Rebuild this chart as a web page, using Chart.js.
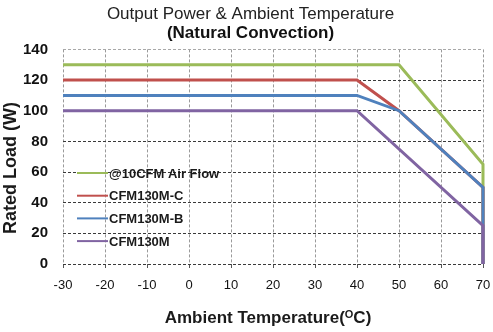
<!DOCTYPE html>
<html>
<head>
<meta charset="utf-8">
<script src="https://cdn.jsdelivr.net/npm/chart.js@4/dist/chart.umd.min.js"></script>
<style>
  body { margin: 0; background: #fff; }
  canvas { display: block; }
</style>
</head>
<body>
<canvas id="derating" width="493" height="332"></canvas>
<script>
// derating curves: ambient temperature (°C) vs rated load (W)
const seriesNames = ["@10CFM Air Flow", "CFM130M-C", "CFM130M-B", "CFM130M"];
const airFlowTemps = [-30, 50, 70, 70];
const airFlowLoads = [130, 130, 65, 0];
const cfmCTemps = [-30, 40, 50, 70, 70];
const cfmCLoads = [120, 120, 100, 50, 0];
const cfmBTemps = [-30, 40, 50, 70, 70];
const cfmBLoads = [110, 110, 100, 50, 0];
const cfmTemps = [-30, 40, 70, 70];
const cfmLoads = [100, 100, 25, 0];
const colors = ["#9bbb59", "#c0504d", "#4f81bd", "#8064a2"];

const FONT = "'Liberation Sans', Arial, sans-serif";

function toPoints(temps, loads) {
  return temps.map((t, i) => ({ x: t, y: loads[i] }));
}

const curves = [
  toPoints(airFlowTemps, airFlowLoads),
  toPoints(cfmCTemps, cfmCLoads),
  toPoints(cfmBTemps, cfmBLoads),
  toPoints(cfmTemps, cfmLoads)
];

// legend sits inside the plot, lower left, no box
const insideLegend = {
  id: "insideLegend",
  afterDraw(chart) {
    const ctx = chart.ctx;
    const area = chart.chartArea;
    ctx.save();
    ctx.font = "bold 13px " + FONT;
    ctx.textBaseline = "middle";
    ctx.fillStyle = "#1a1a1a";
    chart.data.datasets.forEach((ds, i) => {
      const y = 173 + i * 22.7;
      const x = area.left + 14;
      ctx.strokeStyle = ds.borderColor;
      ctx.lineWidth = 2;
      ctx.beginPath();
      ctx.moveTo(x, y);
      ctx.lineTo(x + 31, y);
      ctx.stroke();
      ctx.fillText(ds.label, x + 32, y + 1);
    });
    ctx.restore();
  }
};

// axis titles: rotated y title, x title with a raised "O"
const axisTitles = {
  id: "axisTitles",
  afterDraw(chart) {
    const ctx = chart.ctx;
    ctx.save();
    ctx.fillStyle = "#1a1a1a";

    ctx.save();
    ctx.translate(11, 168);
    ctx.rotate(-Math.PI / 2);
    ctx.font = "bold 18px " + FONT;
    ctx.textAlign = "center";
    ctx.textBaseline = "middle";
    ctx.fillText("Rated Load (W)", 0, 0);
    ctx.restore();

    const parts = [
      { text: "Ambient Temperature(", size: 17, dy: 0 },
      { text: "O", size: 11, dy: -5 },
      { text: "C)", size: 17, dy: 0 }
    ];
    ctx.textBaseline = "alphabetic";
    let total = 0;
    parts.forEach(p => {
      ctx.font = "bold " + p.size + "px " + FONT;
      p.w = ctx.measureText(p.text).width;
      total += p.w;
    });
    let x = 268 - total / 2;
    const base = 323;
    parts.forEach(p => {
      ctx.font = "bold " + p.size + "px " + FONT;
      ctx.fillText(p.text, x, base + p.dy);
      x += p.w;
    });
    ctx.restore();
  }
};

new Chart(document.getElementById("derating"), {
  type: "line",
  data: {
    datasets: curves.map((pts, i) => ({
      label: seriesNames[i],
      data: pts,
      borderColor: colors[i],
      backgroundColor: colors[i],
      borderWidth: 3,
      pointRadius: 0,
      tension: 0,
      clip: false,
      order: 3 - i
    }))
  },
  options: {
    responsive: false,
    animation: false,
    devicePixelRatio: 1,
    layout: { padding: { left: 8, right: 0, top: 0, bottom: 0 } },
    plugins: {
      legend: { display: false },
      tooltip: { enabled: false },
      title: {
        display: true,
        text: "Output Power & Ambient Temperature",
        color: "#222",
        font: { family: FONT, size: 17, weight: "normal", lineHeight: 1.1 },
        padding: { top: 5, bottom: 0 }
      },
      subtitle: {
        display: true,
        text: "(Natural Convection)",
        color: "#111",
        font: { family: FONT, size: 17, weight: "bold", lineHeight: 1.1 },
        padding: { top: 0, bottom: 7 }
      }
    },
    scales: {
      x: {
        type: "linear",
        min: -30,
        max: 70,
        afterFit: (scale) => {
          scale.height = 68;
          scale.paddingLeft = 0;
          scale.paddingRight = 10;
        },
        ticks: {
          stepSize: 10,
          color: "#111",
          padding: 10,
          maxRotation: 0,
          font: { family: FONT, size: 13 }
        },
        grid: {
          color: "#9a9a9a",
          lineWidth: 1,
          tickLength: 4,
          tickColor: "#555"
        },
        border: { display: false, dash: [3, 2] }
      },
      y: {
        min: 0,
        max: 140,
        afterFit: (scale) => { scale.width = 55; },
        ticks: {
          stepSize: 10,
          color: "#111",
          padding: 15,
          font: { family: FONT, size: 15, weight: "bold" },
          callback: (v) => (v % 20 === 0 ? v : "")
        },
        grid: {
          drawTicks: false,
          lineWidth: 1,
          color: (c) => {
            const v = c.tick ? c.tick.value : 0;
            if (v === 140) return "#a8a8a8";
            return v % 20 === 0 ? "#3a3a3a" : "#b4b4b4";
          }
        },
        border: { display: false, dash: [3, 2] }
      }
    }
  },
  plugins: [insideLegend, axisTitles]
});
</script>
</body>
</html>
